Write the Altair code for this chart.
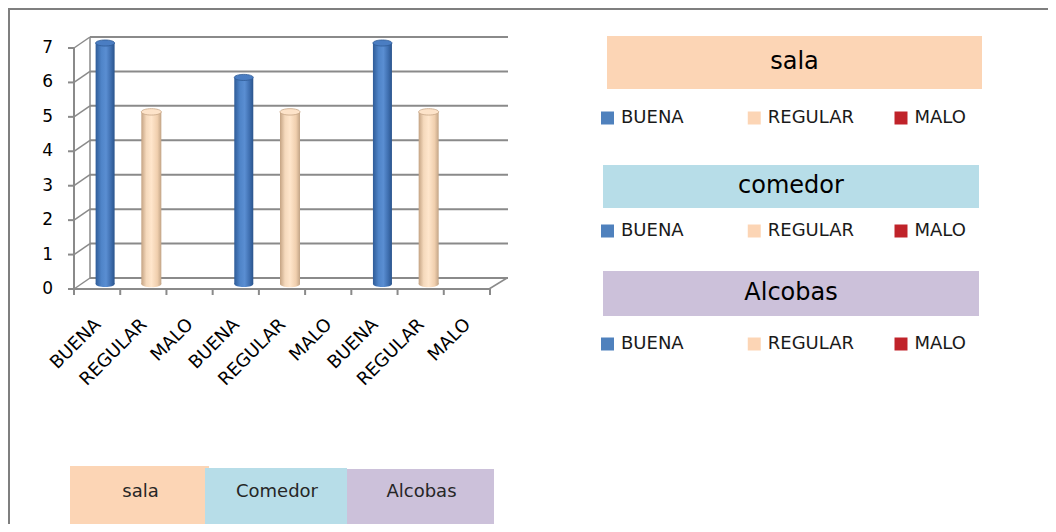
import altair as alt
import pandas as pd

# ---------------- data ----------------
rooms = ["sala", "comedor", "Alcobas"]
qualities = ["BUENA", "REGULAR", "MALO"]
sala_vals = [7, 5, 0]
comedor_vals = [6, 5, 0]
alcobas_vals = [7, 5, 0]
y_ticks = [0, 1, 2, 3, 4, 5, 6, 7]
bottom_labels = ["sala", "Comedor", "Alcobas"]
quality_colors = ["#4f81bd", "#fcd5b5", "#c0232a"]
room_colors = ["#fcd5b5", "#b7dde8", "#ccc1da"]

rows = []
for room, vals in zip(rooms, [sala_vals, comedor_vals, alcobas_vals]):
    for q, v in zip(qualities, vals):
        rows.append({"key": f"{room}|{q}", "room": room, "quality": q, "value": v})
df = pd.DataFrame(rows)
keys = list(df["key"])
ydf = pd.DataFrame({"v": y_ticks})
one = pd.DataFrame({"top": [7], "bottom": [0]})
legend_df = pd.DataFrame([{"room": r, "quality": q} for r in rooms for q in qualities])

GRID = "#8a8a8a"
XS = alt.Scale(domain=keys, range=[74, 490], paddingInner=0, paddingOuter=0)
YS = alt.Scale(domain=[0, 7], range=[270, 29], nice=False)

layers = []

# frame border
layers.append(alt.Chart(one).mark_rule(color="#7f7f7f", strokeWidth=2).encode(
    x=alt.value(0), x2=alt.value(1040), y=alt.value(1)))
layers.append(alt.Chart(one).mark_rule(color="#7f7f7f", strokeWidth=2).encode(
    x=alt.value(1), y=alt.value(0), y2=alt.value(516)))

# back grid lines
layers.append(alt.Chart(ydf).mark_rule(color=GRID, strokeWidth=2).encode(
    y=alt.Y("v:Q", scale=YS, axis=None), x=alt.value(82), x2=alt.value(500)))
# left wall diagonals
layers.append(alt.Chart(ydf).mark_rule(color=GRID, strokeWidth=1.5, yOffset=11).encode(
    y=alt.Y("v:Q", scale=YS, axis=None), y2=alt.Y2("v:Q"), x=alt.value(66), x2=alt.value(82)))
# back wall vertical
layers.append(alt.Chart(one).mark_rule(color=GRID, strokeWidth=1.5).encode(
    y=alt.Y("top:Q", scale=YS, axis=None), y2="bottom:Q", x=alt.value(82)))
# front axis vertical
layers.append(alt.Chart(one).mark_rule(color=GRID, strokeWidth=2, yOffset=11, y2Offset=11).encode(
    y=alt.Y("top:Q", scale=YS, axis=None), y2="bottom:Q", x=alt.value(66)))
# front base line
layers.append(alt.Chart(one).mark_rule(color=GRID, strokeWidth=2, yOffset=11).encode(
    y=alt.Y("bottom:Q", scale=YS, axis=None), x=alt.value(66), x2=alt.value(481)))
# right floor diagonal
layers.append(alt.Chart(one).mark_rule(color=GRID, strokeWidth=1.5, yOffset=11).encode(
    y=alt.Y("bottom:Q", scale=YS, axis=None), y2=alt.Y2("bottom:Q"), x=alt.value(481), x2=alt.value(499)))
# y ticks
layers.append(alt.Chart(ydf).mark_rule(color=GRID, strokeWidth=2, yOffset=11).encode(
    y=alt.Y("v:Q", scale=YS, axis=None), x=alt.value(60), x2=alt.value(66)))
# y labels
layers.append(alt.Chart(ydf).mark_text(align="right", baseline="middle", font="DejaVu Sans", fontSize=17,
                                        color="#000000", yOffset=11).encode(
    y=alt.Y("v:Q", scale=YS, axis=None), x=alt.value(45), text=alt.Text("v:Q")))
# x ticks
layers.append(alt.Chart(df).mark_rule(color=GRID, strokeWidth=2, xOffset=-8).encode(
    x=alt.X("key:N", scale=XS, axis=None, bandPosition=0), y=alt.value(281), y2=alt.value(287)))
layers.append(alt.Chart(df.tail(1)).mark_rule(color=GRID, strokeWidth=2, xOffset=-8).encode(
    x=alt.X("key:N", scale=XS, axis=None, bandPosition=1), y=alt.value(281), y2=alt.value(287)))
# x labels
layers.append(alt.Chart(df).mark_text(align="right", baseline="middle", angle=315, font="DejaVu Sans",
                                      fontSize=18, color="#000000", xOffset=-7).encode(
    x=alt.X("key:N", scale=XS, axis=None), y=alt.value(314), text="quality:N"))


def grad(stops):
    return {"gradient": "linear", "x1": 0, "x2": 1, "y1": 0, "y2": 0,
            "stops": [{"offset": o, "color": c} for o, c in stops]}


blue_g = grad([(0, "#2f5c98"), (0.3, "#4f84c8"), (0.55, "#5a8ed2"), (0.8, "#3f6fb0"), (1, "#2a548c")])
peach_g = grad([(0, "#c4a383"), (0.25, "#f5d9bc"), (0.5, "#ffe6cc"), (0.8, "#f0cfae"), (1, "#c2a486")])
ELL = "M -1 0 A 1 0.32 0 1 1 1 0 A 1 0.32 0 1 1 -1 0 Z"

for q, g, top_fill, top_stroke, bw in [("BUENA", blue_g, "#4a7dc2", "#2e5a94", 19),
                                       ("REGULAR", peach_g, "#fde3c9", "#c6a687", 20)]:
    sub = df[(df["quality"] == q) & (df["value"] > 0)]
    base = alt.Chart(sub)
    layers.append(base.mark_point(filled=True, shape=ELL, size=bw * bw, fill=g, opacity=1,
                                  strokeWidth=0, yOffset=6).encode(
        x=alt.X("key:N", scale=XS, axis=None), y=alt.Y("bottom:Q", scale=YS, axis=None)
    ).transform_calculate(bottom="0"))
    layers.append(base.mark_bar(width=bw, fill=g, yOffset=6, y2Offset=6).encode(
        x=alt.X("key:N", scale=XS, axis=None), y=alt.Y("value:Q", scale=YS, axis=None), y2=alt.datum(0)))
    layers.append(base.mark_point(filled=True, shape=ELL, size=bw * bw, fill=top_fill, opacity=1,
                                  stroke=top_stroke, strokeWidth=0.8, yOffset=6).encode(
        x=alt.X("key:N", scale=XS, axis=None), y=alt.Y("value:Q", scale=YS, axis=None)))

# right-side title boxes
title_boxes = [(599, 974, 28, 81), (595, 971, 157, 200), (595, 971, 263, 308)]
for room, col, (bx1, bx2, by1, by2) in zip(rooms, room_colors, title_boxes):
    d = pd.DataFrame({"t": [room]})
    layers.append(alt.Chart(d).mark_rect(fill=col).encode(
        x=alt.value(bx1), x2=alt.value(bx2), y=alt.value(by1), y2=alt.value(by2)))
    layers.append(alt.Chart(d).mark_text(font="DejaVu Sans", fontSize=24,
                                         color="#000000", align="center", baseline="middle").encode(
        x=alt.value((bx1 + bx2) / 2), y=alt.value((by1 + by2) / 2 - 1), text="t:N"))

# right-side legends
LX = alt.Scale(domain=qualities, range=[599.5, 893], padding=0)
LY = alt.Scale(domain=rooms, range=[110, 336], padding=0)
layers.append(alt.Chart(legend_df).mark_point(shape="square", filled=True, size=169, opacity=1).encode(
    x=alt.X("quality:N", scale=LX, axis=None), y=alt.Y("room:N", scale=LY, axis=None),
    color=alt.Color("quality:N", scale=alt.Scale(domain=qualities, range=quality_colors), legend=None)))
layers.append(alt.Chart(legend_df).mark_text(align="left", baseline="middle", dx=13.5, font="DejaVu Sans",
                                             fontSize=18, color="#1a1a1a").encode(
    x=alt.X("quality:N", scale=LX, axis=None), y=alt.Y("room:N", scale=LY, axis=None), text="quality:N"))

# bottom boxes
bottom_boxes = [(62, 201, 458), (197, 339, 460), (339, 486, 461)]
for lab, col, (bx1, bx2, by1) in zip(bottom_labels, room_colors, bottom_boxes):
    d = pd.DataFrame({"t": [lab]})
    layers.append(alt.Chart(d).mark_rect(fill=col).encode(
        x=alt.value(bx1), x2=alt.value(bx2), y=alt.value(by1), y2=alt.value(516)))
    layers.append(alt.Chart(d).mark_text(font="DejaVu Sans", fontSize=18, color="#262626",
                                         align="center", baseline="middle").encode(
        x=alt.value((bx1 + bx2) / 2 + 1), y=alt.value(484), text="t:N"))

chart = alt.layer(*layers).resolve_scale(x="independent", y="independent", color="independent").properties(
    width=1040, height=516, autosize=alt.AutoSizeParams(type="none"), padding=0,
    background="#ffffff"
).configure_view(stroke=None)

chart.save("out.html", embed_options={"renderer": "svg", "actions": False})
